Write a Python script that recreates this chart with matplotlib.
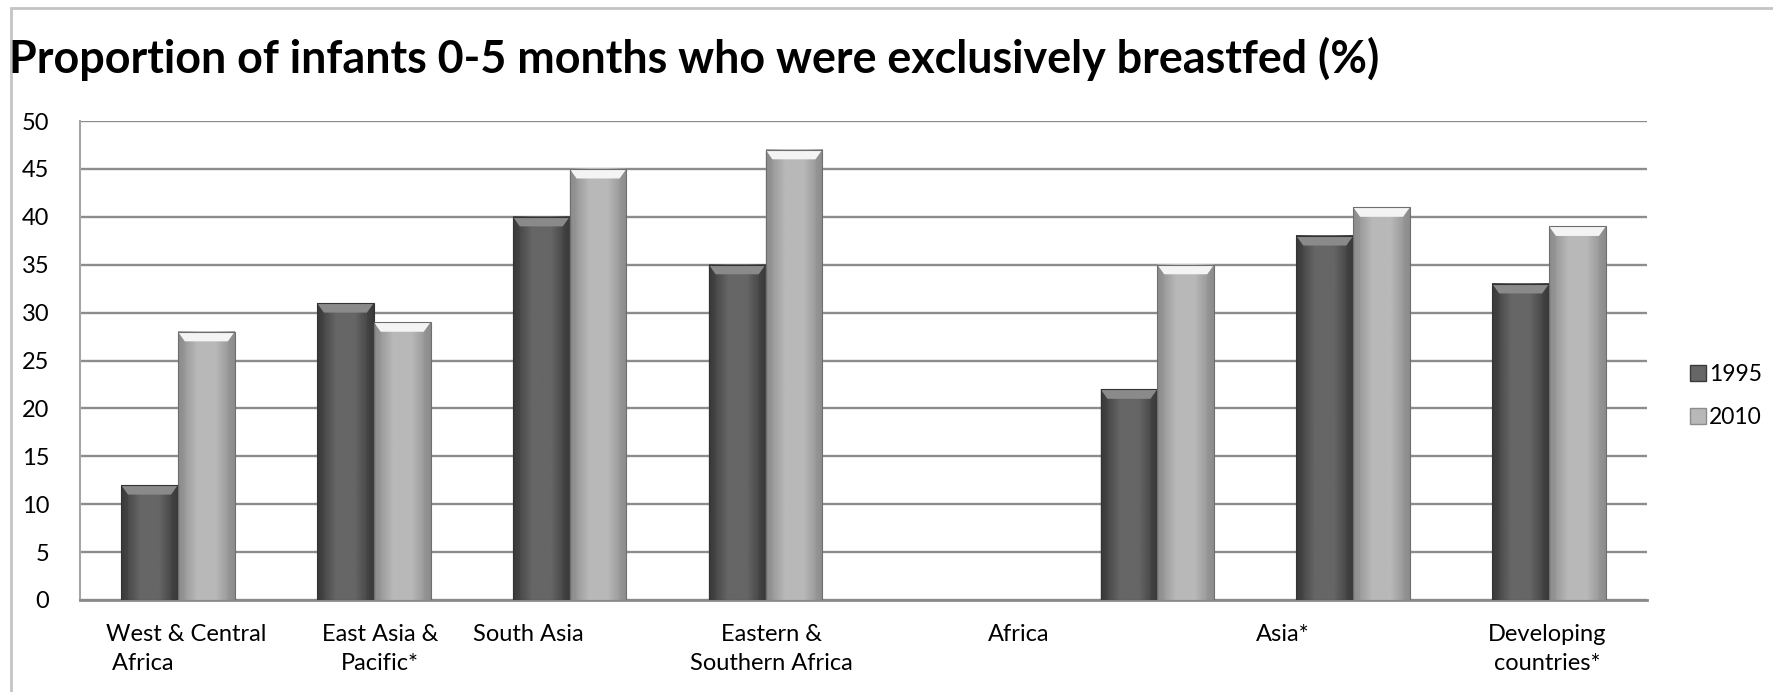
import numpy as np
import matplotlib
matplotlib.use("Agg")
import matplotlib.pyplot as plt
from matplotlib.colors import LinearSegmentedColormap
from matplotlib.patches import Polygon, Rectangle
from matplotlib.lines import Line2D

# Data: 8 slots on the category axis, the fifth one has no bars
slots_1995 = [12, 31, 40, 35, np.nan, 22, 38, 33]
slots_2010 = [28, 29, 45, 47, np.nan, 35, 41, 39]
series = ["1995", "2010"]

# category captions as printed under the axis (7 captions for 8 slots)
captions = ["West & Central\n Africa", "East Asia &\nPacific*", "South Asia",
            "Eastern &\nSouthern Africa", "Africa", "Asia*", "Developing\ncountries*"]
caption_pos = [0.04, 1.03, 1.79, 3.03, 4.29, 5.64, 6.99]

plt.rcParams['font.family'] = ['Lato', 'DejaVu Sans']

fig = plt.figure(figsize=(17.73, 6.92), dpi=100)
ax = fig.add_axes([80/1773, 92/692, 1567/1773, 479/692])

x = np.arange(len(slots_1995))
w = 0.29
dark = ("#3a3a3a", "#666666", "#8a8a8a")   # edge, middle, bevel top
light = ("#8c8c8c", "#b8b8b8", "#f4f4f4")


def shade(bars, cols):
    edge, mid, top = cols
    cmap = LinearSegmentedColormap.from_list("g", [edge, mid, mid, edge])
    grad = np.linspace(0, 1, 64)[None, :]
    for b in bars:
        h = b.get_height()
        if not np.isfinite(h):
            continue
        x0, bw = b.get_x(), b.get_width()
        ax.imshow(grad, cmap=cmap, extent=[x0, x0 + bw, 0, h], aspect='auto',
                  zorder=3, interpolation='bilinear')
        d = bw * 0.12
        bev = 1.0
        ax.add_patch(Polygon([(x0, h), (x0 + bw, h), (x0 + bw - d, h - bev), (x0 + d, h - bev)],
                             closed=True, facecolor=top, edgecolor='none', zorder=3.5))
        ax.add_patch(Polygon([(x0, h), (x0 + d, h - bev), (x0 + d, 0), (x0, 0)],
                             closed=True, facecolor=edge, alpha=0.35, edgecolor='none', zorder=3.6))
        ax.add_patch(Polygon([(x0 + bw, h), (x0 + bw - d, h - bev), (x0 + bw - d, 0), (x0 + bw, 0)],
                             closed=True, facecolor=edge, alpha=0.35, edgecolor='none', zorder=3.6))
        b.set_facecolor('none')
        b.set_zorder(4)


b1 = ax.bar(x - w/2, slots_1995, w, color=dark[1], edgecolor="#333333", linewidth=0.8)
b2 = ax.bar(x + w/2, slots_2010, w, color=light[1], edgecolor="#6e6e6e", linewidth=0.8)
shade(b1, dark)
shade(b2, light)

ax.set_xlim(-0.5, len(slots_1995) - 0.5)
ax.set_ylim(0, 50)
ax.set_yticks(np.arange(0, 51, 5))
ax.yaxis.grid(True, color="#8c8c8c", linewidth=1.7)
ax.set_axisbelow(True)
ax.tick_params(axis='y', length=0, pad=22, labelsize=17)
ax.tick_params(axis='x', length=0, pad=17, labelsize=17)
ax.set_xticks(caption_pos)
ax.set_xticklabels(captions, linespacing=1.5)
ax.get_xticklabels()[0].set_multialignment('left')
for s in ['top', 'right']:
    ax.spines[s].set_visible(False)
ax.spines['left'].set_color("#a6a6a6")
ax.spines['left'].set_linewidth(1.5)
ax.spines['bottom'].set_color("#8a8a8a")
ax.spines['bottom'].set_linewidth(2)

handles = [Line2D([], [], marker='s', linestyle='none', markersize=11,
                  markerfacecolor=c[1], markeredgecolor=c[0]) for c in (dark, light)]
fig.legend(handles, series, loc='center left', bbox_to_anchor=(1670/1773, 296/692),
           frameon=False, fontsize=16.5, handlelength=0.6, handletextpad=0.2,
           labelspacing=1.0)

fig.text(9/1773, (692 - 73)/692, "Proportion of infants 0-5 months who were exclusively breastfed (%)",
         fontsize=32.3, fontweight='bold', va='baseline', ha='left')

# light chart frame
fig.patches.append(Rectangle((11/1773, -0.1), 1.2, (692 - 8)/692 + 0.1, transform=fig.transFigure,
                             fill=False, edgecolor="#c4c4c4", linewidth=2))

fig.savefig("out.png", dpi=100)
